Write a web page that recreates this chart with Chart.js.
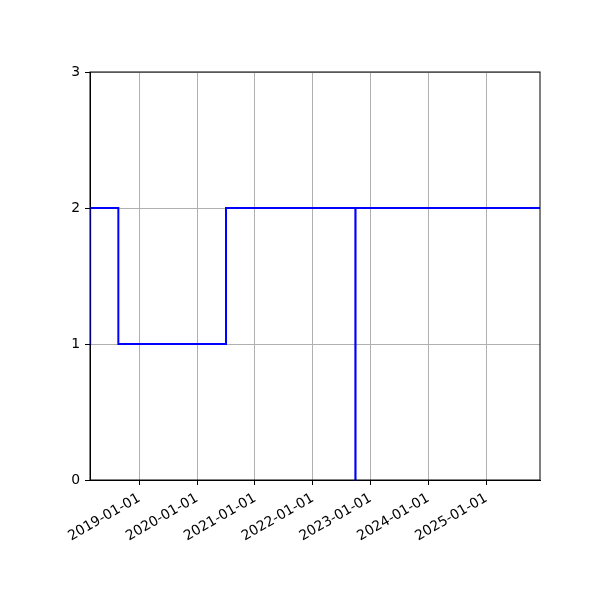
<!DOCTYPE html>
<html>
<head>
<meta charset="utf-8">
<script src="https://cdn.jsdelivr.net/npm/chart.js@4/dist/chart.umd.min.js"></script>
<style>
  body { margin: 0; background: #fff; }
  canvas { display: block; }
</style>
</head>
<body>
<canvas id="chart" width="600" height="600"></canvas>
<script>
// dane: daty zmian poziomu i wartości (skok "przed" punktem)
const dates = ["2018-02-23", "2018-02-25", "2018-08-22", "2020-07-02", "2022-09-27", "2022-09-28", "2025-12-06"];
const values = [1, 2, 1, 2, 0, 2, 2];

// zakres osi X
const xRange = ["2018-02-24", "2025-12-06"];

// etykiety osi X (1 stycznia każdego roku)
const tickLabels = ["2019-01-01", "2020-01-01", "2021-01-01", "2022-01-01", "2023-01-01", "2024-01-01", "2025-01-01"];
const yTicks = [0, 1, 2, 3];

const toMs = (s) => Date.parse(s + "T00:00:00Z");
const points = dates.map((d, i) => ({ x: toMs(d), y: values[i] }));

// ramka wokół obszaru wykresu (górna i prawa krawędź jak w matplotlib)
const frame = {
    id: "frame",
    afterDraw(chart) {
        const { ctx, chartArea: a } = chart;
        ctx.save();
        ctx.strokeStyle = "#000";
        ctx.lineWidth = 1;
        ctx.strokeRect(a.left, a.top, a.right - a.left, a.bottom - a.top);
        ctx.restore();
    },
};

const font = { family: "DejaVu Sans", size: 13.9 };

const ctx = document.getElementById("chart").getContext("2d");
new Chart(ctx, {
    type: "line",
    data: {
        datasets: [{
            data: points,
            borderColor: "#0000ff",
            borderWidth: 2,
            pointRadius: 0,
            stepped: "before",
            fill: false,
            clip: { left: 0, top: 2, right: 0, bottom: 2 },
        }],
    },
    options: {
        responsive: false,
        animation: false,
        devicePixelRatio: 1,
        layout: { padding: { left: 0, right: 60, top: 72, bottom: 0 } },
        plugins: { legend: { display: false }, tooltip: { enabled: false } },
        scales: {
            x: {
                type: "linear",
                min: toMs(xRange[0]),
                max: toMs(xRange[1]),
                afterBuildTicks: (scale) => {
                    scale.ticks = tickLabels.map((t) => ({ value: toMs(t) }));
                },
                afterFit: (scale) => { scale.height = 120; },
                ticks: {
                    color: "#000",
                    font: font,
                    minRotation: 30,
                    maxRotation: 30,
                    autoSkip: false,
                    padding: 5,
                    callback: (v, i) => tickLabels[i],
                },
                grid: { color: "#b0b0b0", lineWidth: 1, tickColor: "#000", tickLength: 5 },
                border: { color: "#000", width: 1 },
            },
            y: {
                min: 0,
                max: 3,
                afterBuildTicks: (scale) => {
                    scale.ticks = yTicks.map((v) => ({ value: v }));
                },
                afterFit: (scale) => { scale.width = 90; },
                ticks: { color: "#000", font: font, padding: 5 },
                grid: { color: "#b0b0b0", lineWidth: 1, tickColor: "#000", tickLength: 5 },
                border: { color: "#000", width: 1 },
            },
        },
    },
    plugins: [frame],
});
</script>
</body>
</html>
